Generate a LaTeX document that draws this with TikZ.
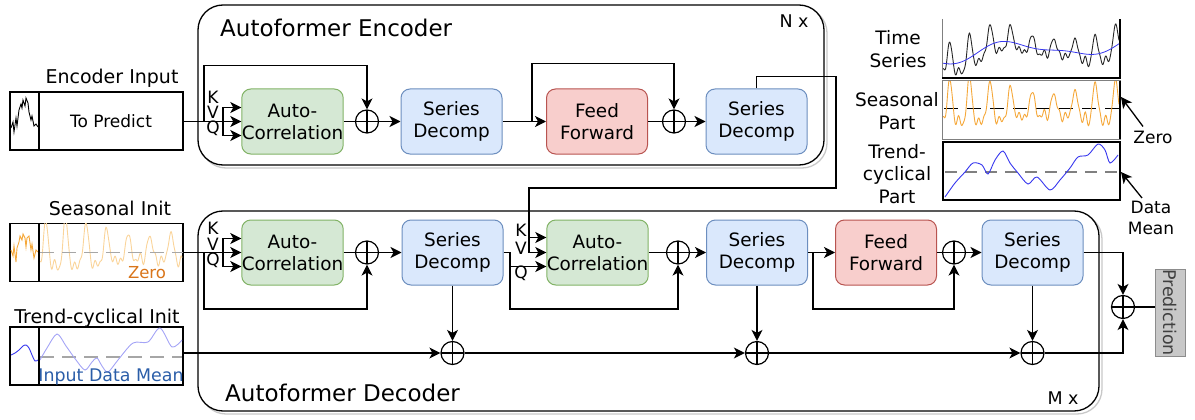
\documentclass[tikz,border=0pt]{standalone}
\usepackage{fontspec}
\setmainfont{DejaVu Sans}
\usetikzlibrary{arrows.meta,calc}

\definecolor{acfill}{HTML}{D5E8D4}\definecolor{acline}{HTML}{82B366}
\definecolor{sdfill}{HTML}{DAE8FC}\definecolor{sdline}{HTML}{6C8EBF}
\definecolor{fffill}{HTML}{F8CECC}\definecolor{ffline}{HTML}{B85450}
\definecolor{seas}{HTML}{F5A83A}\definecolor{seaslight}{HTML}{FAD49A}
\definecolor{trend}{HTML}{3737EE}\definecolor{trendlight}{HTML}{A4A4F6}
\definecolor{zerotxt}{HTML}{D9751A}\definecolor{meantxt}{HTML}{2A5DA8}
\definecolor{framegrey}{HTML}{C8C8C8}\definecolor{predfill}{HTML}{C8C8C8}
\definecolor{predline}{HTML}{8C8C8C}

\begin{document}
\begin{tikzpicture}[x=1pt,y=-1pt,
  declare function={
    seasn(\u)=(1+0.35*sin(2.3*\u+30))*(sin(17.5*(\u-3)+25*sin(1.9*\u))-0.5*cos(35*(\u-3)+50*sin(1.9*\u)))
      +0.14*sin(71*\u)+0.12*sin(53*\u+20)+0.1*sin(43*\u+70)+0.08*sin(29*\u+10);
    trendone(\u)=55-0.06*\u+8*cos(2.6*\u)+3*sin(5*\u);
  },
  ln/.style={line width=1.3pt},
  arr/.style={ln,-{Stealth[length=11pt,width=11pt,inset=3pt]}},
  blk/.style={rounded corners=9pt,minimum width=101pt,minimum height=65pt,inner sep=0pt,
    align=center,font=\fontsize{18.4}{22}\selectfont,line width=1pt},
  ac/.style={blk,fill=acfill,draw=acline},
  sd/.style={blk,fill=sdfill,draw=sdline},
  ff/.style={blk,fill=fffill,draw=ffline},
  sum/.style={circle,draw,line width=1.2pt,minimum size=23pt,inner sep=0pt,
    path picture={\draw[line width=1.2pt] (path picture bounding box.north) -- (path picture bounding box.south)
      (path picture bounding box.west) -- (path picture bounding box.east);}},
  lbl/.style={font=\fontsize{19}{22}\selectfont,inner sep=0pt},
  kvq/.style={font=\fontsize{17}{17}\selectfont,inner sep=0pt},
  title/.style={font=\fontsize{23}{26}\selectfont,inner sep=0pt,anchor=west},
  rep/.style={font=\fontsize{17.5}{18}\selectfont,inner sep=0pt},
  inbox/.style={draw,line width=1.3pt,minimum width=173pt,minimum height=58pt,inner sep=0pt},
  legtxt/.style={font=\fontsize{18.5}{22.5}\selectfont,align=center,inner sep=0pt},
  frame/.style={rounded corners=25pt,line width=1.3pt},
  meanline/.style={dash pattern=on 14pt off 8pt,line width=1.4pt}
]
\useasboundingbox (0,0) rectangle (1195,420);

% ---------- layer frames ----------
\draw[frame,draw=framegrey] (201,8) rectangle (827,168);
\draw[frame,fill=white] (198,5) rectangle (824,165);
\draw[frame,draw=framegrey] (201,214) rectangle (1102,414);
\draw[frame,fill=white] (198,211) rectangle (1099,411);
\node[title] (enctitle) at (220,28) {Autoformer Encoder};
\node[title] (dectitle) at (225,393) {Autoformer Decoder};
\node[rep] (nx) at (794,21) {N x};
\node[rep] (mx) at (1063,398) {M x};

% ---------- inputs ----------
\node[lbl] (encinlbl) at (112,78) {Encoder Input};
\node[inbox] (encin) at (96.5,121) {};
\draw[ln] (39,92) -- (39,150);
\draw[line width=0.9pt] plot coordinates {(11,128) (13,122) (14,132) (16,118) (17,126) (19,110) (21,104) (22,108)
  (23,100) (25,106) (26,98) (28,103) (29,112) (31,120) (32,116) (34,126) (36,124) (38,127)};
\node[font=\fontsize{17}{20}\selectfont] (topred) at (111,121) {To Predict};

\node[lbl] (seainlbl) at (110,208) {Seasonal Init};
\node[inbox] (seain) at (96.5,252.5) {};
\begin{scope}
  \clip (39,223.5) rectangle (183,281.5);
  \draw[seaslight,line width=0.9pt] plot[domain=40:182,samples=300] (\x,{252.5-16*seasn(\x-38)});
  \draw[gray!70,meanline] (40,252.5) -- (183,252.5);
\end{scope}
\draw[seas,line width=0.9pt] plot coordinates {(11,250) (13,256) (14,246) (16,262) (17,248) (19,242) (20,236) (22,240)
  (23,234) (25,238) (26,247) (27,238) (29,236) (31,250) (32,244) (34,258) (36,250) (38,252)};
\draw[ln] (39,223.5) -- (39,281.5);
\node[font=\fontsize{16.5}{18}\selectfont,text=zerotxt,inner sep=0pt] (zerolbl) at (147,273) {Zero};

\node[lbl] (trinlbl) at (97,318) {Trend-cyclical Init};
\node[inbox] (trin) at (96.5,356) {};
\draw[gray!70,meanline] (40,357) -- (182,357);
\draw[trendlight,line width=0.9pt] plot[smooth] coordinates {(40,360) (47,348) (57,334) (66,346) (76,360) (85,370)
  (92,362) (97,358) (102,366) (108,372) (118,360) (133,343) (148,342) (160,328) (172,347) (182,340)};
\draw[trend,line width=0.9pt] plot[smooth] coordinates {(11,355) (15,353) (19,350) (23,346) (26,345) (29,348) (32,355)
  (35,361) (38,360)};
\draw[ln] (39,327) -- (39,385);
\node[font=\fontsize{17.4}{20}\selectfont,text=meantxt,inner sep=0pt] (meanlbl) at (111,377) {Input Data Mean};

% ---------- encoder ----------
\node[ac] (e1) at (292.5,121.5) {Auto-\\Correlation};
\node[sum] (ep1) at (367,121.5) {};
\node[sd] (es1) at (451.5,121.5) {Series\\Decomp};
\node[ff] (ef) at (597,121.5) {Feed\\Forward};
\node[sum] (ep2) at (674,121.5) {};
\node[sd] (es2) at (756.5,121.5) {Series\\Decomp};

\node[kvq] (ek1) at (213,97) {K};
\node[kvq] (ev1) at (213,112) {V};
\node[kvq] (eq1) at (213,128) {Q};

\coordinate (ebr) at (223,121.5);
\coordinate (eskip) at (204,121.5);
\draw[ln] (encin.east |- ebr) -- (ebr);
\draw[arr] (ebr) |- ($(e1.west)+(0,-14)$);
\draw[arr] (ebr) -- (e1.west);
\draw[arr] (ebr) |- ($(e1.west)+(0,14)$);
\draw[arr] (eskip) -- ++(0,-56) -| (ep1.north);
\draw[ln] (e1) -- (ep1);
\draw[arr] (ep1) -- (es1);
\draw[arr] (es1) -- (ef);
\coordinate (eskip2) at (532,121.5);
\draw[arr] (eskip2) -- ++(0,-58) -| (ep2.north);
\draw[ln] (ef) -- (ep2);
\draw[arr] (ep2) -- (es2);

% ---------- decoder ----------
\node[ac] (d1) at (292.5,252.5) {Auto-\\Correlation};
\node[sum] (dp1) at (367,252.5) {};
\node[sd] (ds1) at (452.5,252.5) {Series\\Decomp};
\node[ac] (d2) at (597.5,252.5) {Auto-\\Correlation};
\node[sum] (dp2) at (678,252.5) {};
\node[sd] (ds2) at (757,252.5) {Series\\Decomp};
\node[ff] (df) at (886,252.5) {Feed\\Forward};
\node[sum] (dp3) at (954,252.5) {};
\node[sd] (ds3) at (1032.5,252.5) {Series\\Decomp};
\node[sum] (tp1) at (452.5,353) {};
\node[sum] (tp2) at (757,353) {};
\node[sum] (tp3) at (1032.5,353) {};
\node[sum] (fp) at (1123,307) {};
\node[draw=predline,fill=predfill,line width=1pt,minimum width=87pt,minimum height=30pt,inner sep=0pt,
  rotate=-90,font=\fontsize{17.5}{20}\selectfont,text=black!75] (pred) at (1170,312.5) {Prediction};

\node[kvq] (dk1) at (213,228) {K};
\node[kvq] (dv1) at (213,244) {V};
\node[kvq] (dq1) at (213,260) {Q};
\node[kvq] (dk2) at (521,230) {K};
\node[kvq] (dv2) at (521,248) {V};
\node[kvq] (dq2) at (521,273) {Q};

\coordinate (dbr) at (223,252.5);
\coordinate (dskip) at (204,252.5);
\draw[ln] (seain.east) -- (dbr);
\draw[arr] (dbr) |- ($(d1.west)+(0,-14)$);
\draw[arr] (dbr) -- (d1.west);
\draw[arr] (dbr) |- ($(d1.west)+(0,14)$);
\draw[arr] (dskip) -- ++(0,56.5) -| (dp1.south);
\draw[ln] (d1) -- (dp1);
\draw[arr] (dp1) -- (ds1);

% encoder output feeds K and V of the cross correlation
\coordinate (kv) at (529,237.5);
\draw[arr] (es2.north) -- ++(0,-12) -| (836,188) -| (kv) -- ($(d2.west)+(0,-15)$);
\draw[arr] (kv) |- (d2.west);
\coordinate (dq) at (510,266.5);
\draw[ln] (ds1.east) -| (dq);
\draw[arr] (dq) -- ($(d2.west)+(0,14)$);
\draw[arr] (dq) -- (510,309) -| (dp2.south);
\draw[ln] (d2) -- (dp2);
\draw[arr] (dp2) -- (ds2);
\draw[arr] (ds2) -- (df);
\coordinate (dskip3) at (813,252.5);
\draw[arr] (dskip3) -- (813,309) -| (dp3.south);
\draw[ln] (df) -- (dp3);
\draw[arr] (dp3) -- (ds3);
\draw[arr] (ds3.east) -| (fp.north);

% trend accumulation
\draw[arr] (trin.east |- tp1) -- (tp1);
\draw[arr] (ds1) -- (tp1);
\draw[arr] (tp1) -- (tp2);
\draw[arr] (ds2) -- (tp2);
\draw[arr] (tp2) -- (tp3);
\draw[arr] (ds3) -- (tp3);
\draw[arr] (tp3) -| (fp.south);
\draw[ln] (fp) -- (fp -| pred.south);

% ---------- legend: decomposition of a series ----------
\node[legtxt] (tslbl) at (898,49) {Time\\Series};
\node[legtxt] (seaslbl) at (897,111) {Seasonal\\Part};
\node[legtxt] (trlbl) at (897,174) {Trend-\\cyclical\\Part};

\begin{scope}
  \clip (942,19) rectangle (1120,78);
  \draw[black!85,line width=0.9pt] plot[domain=943:1119,samples=340]
    (\x,{trendone(\x-942)-11*seasn(\x-942)});
  \draw[trend,line width=0.8pt] plot[domain=943:1119,samples=120] (\x,{trendone(\x-942)});
\end{scope}
\draw[line width=1pt,gray] (942,19) -- (942,78);
\draw[line width=1.2pt] (942,78) -- (1120,78) -- (1120,19);

\begin{scope}
  \clip (942,81) rectangle (1120,139);
  \draw[black,line width=1pt,dash pattern=on 14pt off 9pt] (944,109) -- (1120,109);
  \draw[seas,line width=0.9pt] plot[domain=943:1119,samples=340] (\x,{109-15*seasn(\x-942)});
\end{scope}
\draw[line width=1pt,gray] (942,81) rectangle (1120,139);
\draw[line width=1.2pt] (1120,81) -- (1120,139);

\draw[gray,meanline,dash pattern=on 12pt off 8pt] (945,172) -- (1120,172);
\draw[trend,line width=0.9pt] plot[smooth] coordinates {(945,197) (955,183) (965,172) (973,163) (982,165) (988,174)
  (995,160) (1003,151) (1010,163) (1018,173) (1028,184) (1037,177) (1050,190) (1060,180) (1070,168) (1078,157)
  (1088,155) (1098,144) (1105,150) (1110,163) (1118,155)};
\draw[line width=1.2pt] (943,142) rectangle (1120,200);

\node[font=\fontsize{17}{20}\selectfont,inner sep=0pt] (zerokey) at (1153,137) {Zero};
\coordinate (zeropt) at (1121,97);
\draw[arr] ($(zerokey.north)+(-10,-4)$) -- (zeropt);
\node[font=\fontsize{17}{21}\selectfont,align=center,inner sep=0pt] (meankey) at (1151,218) {Data\\Mean};
\coordinate (meanpt) at (1121,172);
\draw[arr] ($(meankey.north)+(-9,-3)$) -- (meanpt);
\end{tikzpicture}
\end{document}
